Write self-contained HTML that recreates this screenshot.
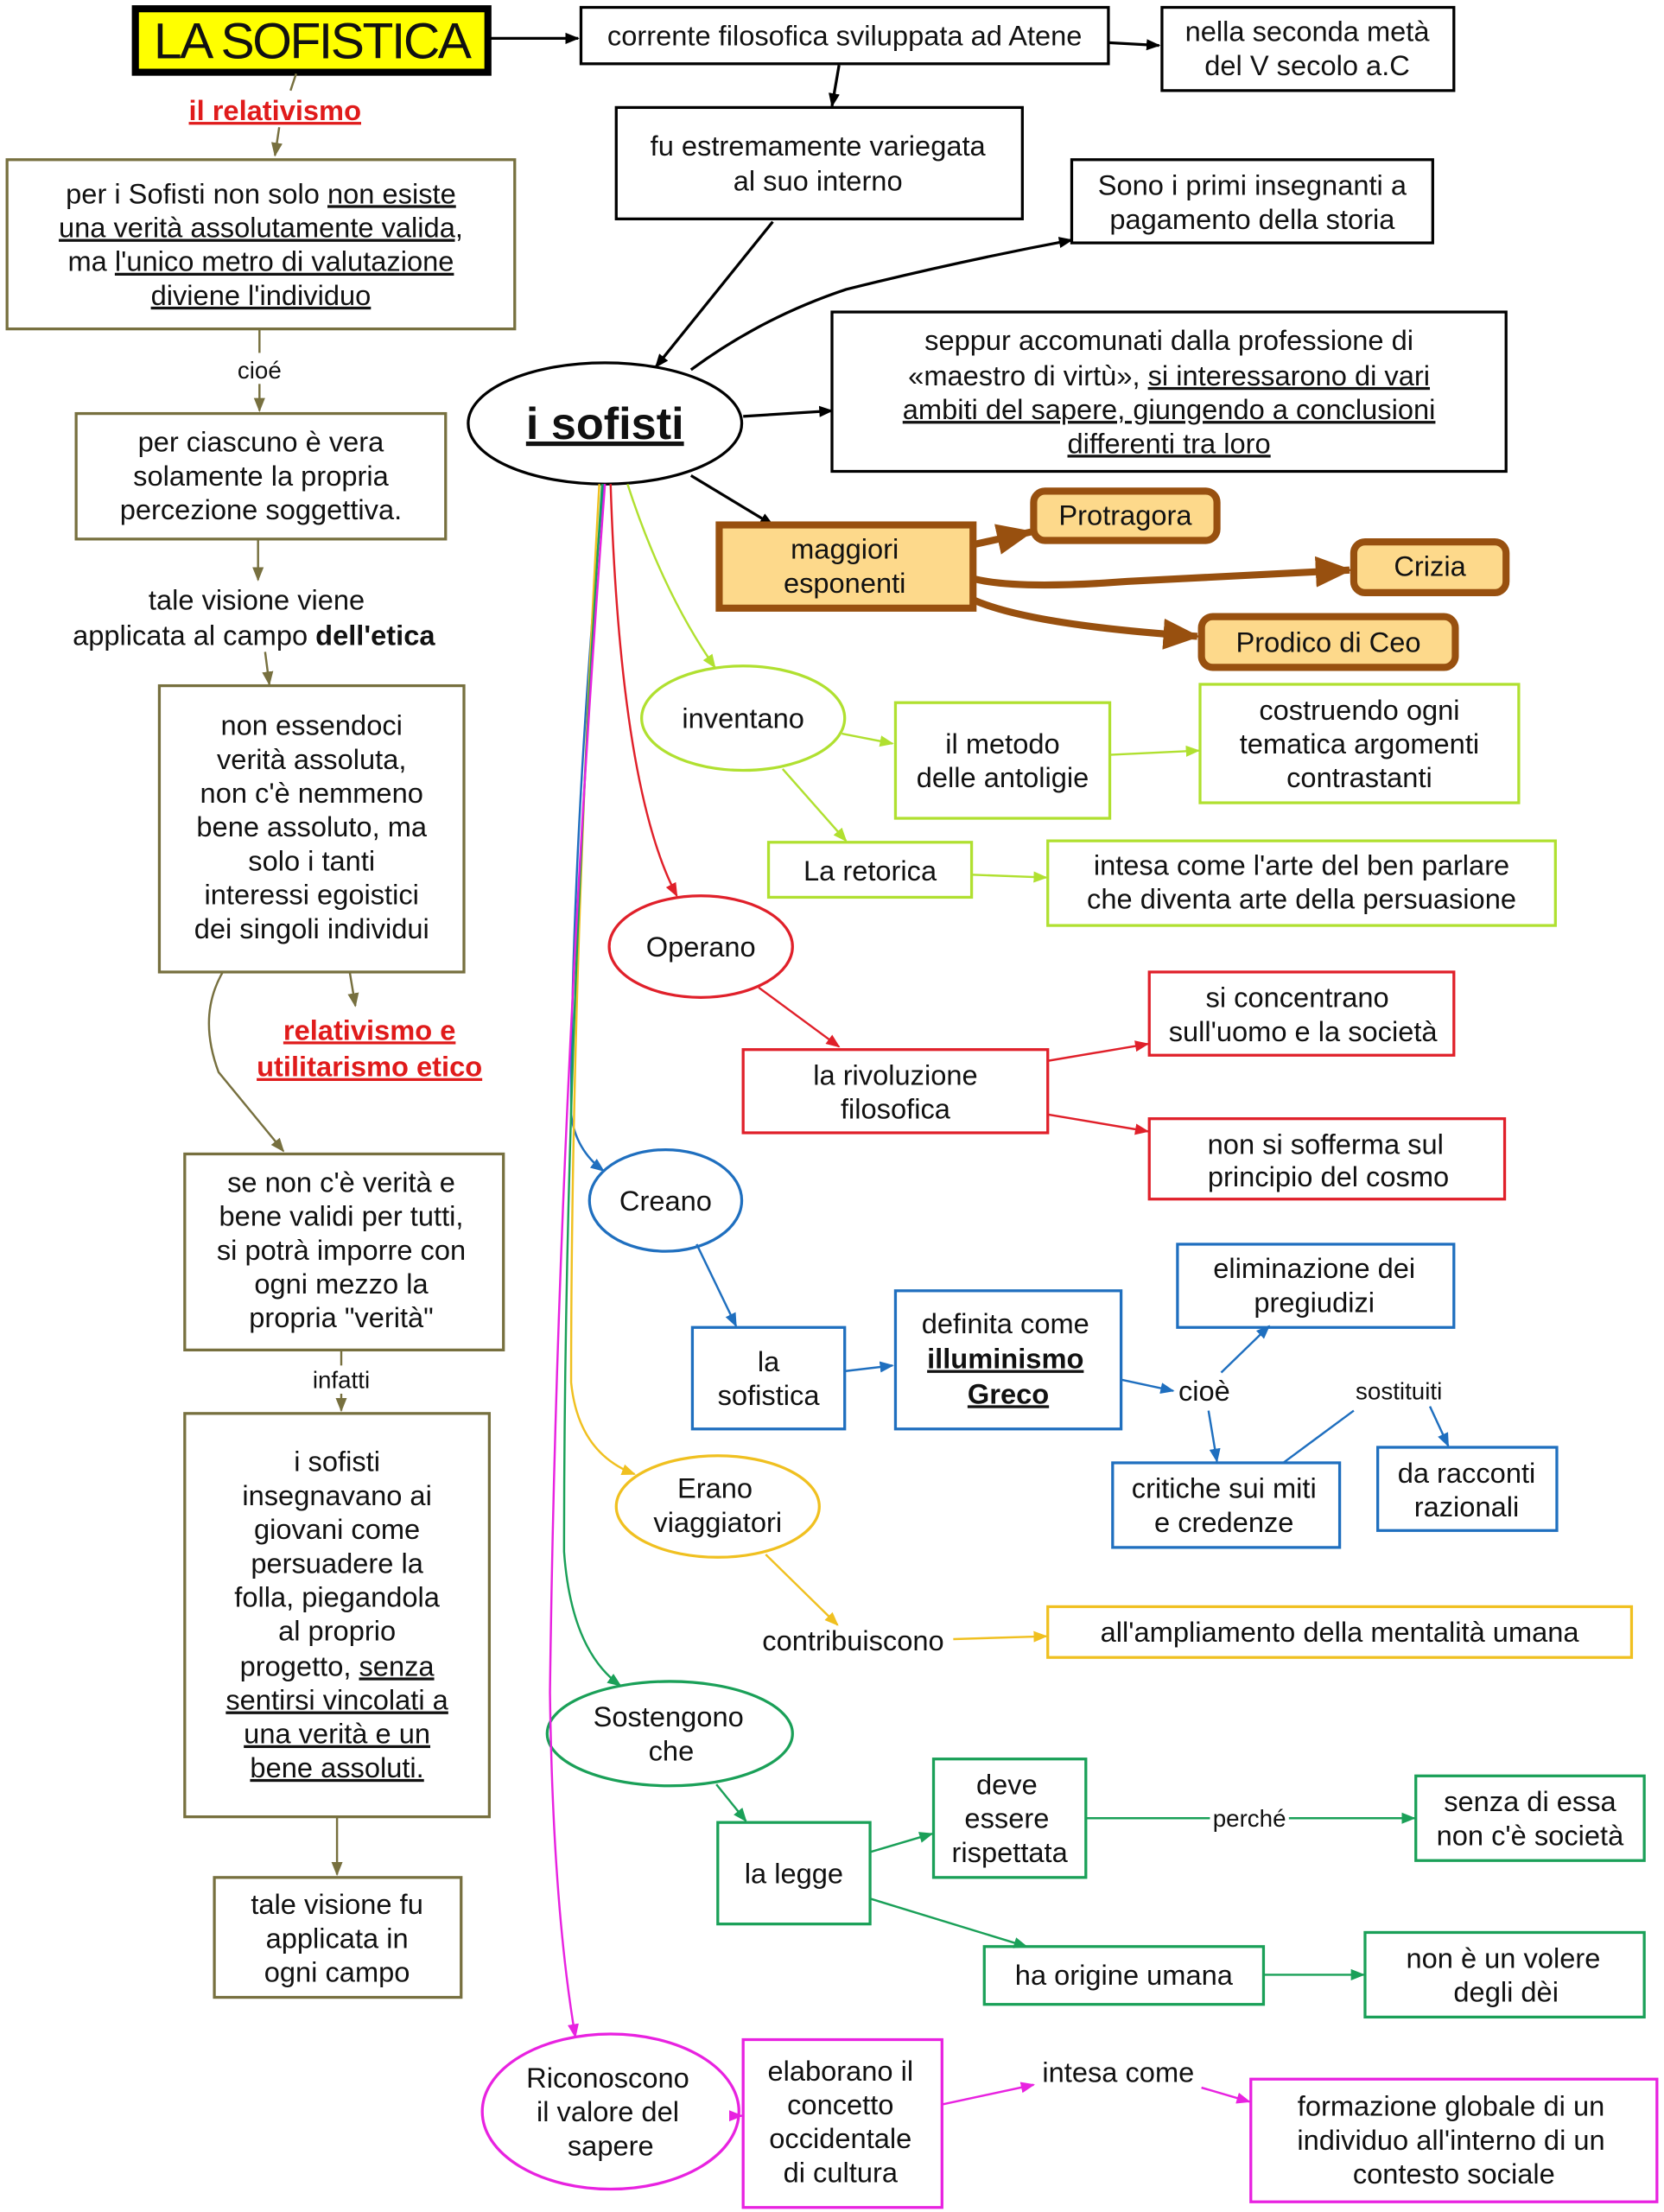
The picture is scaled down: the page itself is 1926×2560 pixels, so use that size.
<!DOCTYPE html>
<html><head><meta charset="utf-8"><style>
html,body{margin:0;padding:0;background:#fff}
svg{display:block}
text{font-family:"Liberation Sans",Arial,sans-serif;font-size:20px;fill:#111;text-anchor:middle}
.u{text-decoration:underline}
.b{font-weight:bold}
.r{fill:#e01b1b;font-weight:bold;text-decoration:underline}
</style></head><body>
<svg width="1926" height="2560" viewBox="0 0 1180 1568" xmlns="http://www.w3.org/2000/svg">
<defs>
<marker id="k" markerWidth="10" markerHeight="10" refX="9" refY="5" orient="auto" markerUnits="userSpaceOnUse"><path d="M0,1 L10,5 L0,9z" fill="#000"/></marker>
<marker id="o" markerWidth="10" markerHeight="10" refX="9" refY="5" orient="auto" markerUnits="userSpaceOnUse"><path d="M0,1 L10,5 L0,9z" fill="#77703f"/></marker>
<marker id="yg" markerWidth="10" markerHeight="10" refX="9" refY="5" orient="auto" markerUnits="userSpaceOnUse"><path d="M0,1 L10,5 L0,9z" fill="#b0e030"/></marker>
<marker id="rd" markerWidth="10" markerHeight="10" refX="9" refY="5" orient="auto" markerUnits="userSpaceOnUse"><path d="M0,1 L10,5 L0,9z" fill="#e0202a"/></marker>
<marker id="bl" markerWidth="10" markerHeight="10" refX="9" refY="5" orient="auto" markerUnits="userSpaceOnUse"><path d="M0,1 L10,5 L0,9z" fill="#1f6fbf"/></marker>
<marker id="ye" markerWidth="10" markerHeight="10" refX="9" refY="5" orient="auto" markerUnits="userSpaceOnUse"><path d="M0,1 L10,5 L0,9z" fill="#f0c020"/></marker>
<marker id="gr" markerWidth="10" markerHeight="10" refX="9" refY="5" orient="auto" markerUnits="userSpaceOnUse"><path d="M0,1 L10,5 L0,9z" fill="#1aa058"/></marker>
<marker id="mg" markerWidth="10" markerHeight="10" refX="9" refY="5" orient="auto" markerUnits="userSpaceOnUse"><path d="M0,1 L10,5 L0,9z" fill="#e822e0"/></marker>
<marker id="br" markerWidth="26" markerHeight="26" refX="24" refY="13" orient="auto" markerUnits="userSpaceOnUse"><path d="M0,2 L26,13 L0,24z" fill="#98500f"/></marker>
</defs>
<g fill="none" stroke-width="2">
<rect x="96" y="6" width="250" height="45" fill="#ffff00" stroke="#000" stroke-width="5"/>
<line x1="348" y1="27" x2="410" y2="27" stroke="#000" marker-end="url(#k)"/>
<rect x="412" y="5" width="374" height="40" stroke="#000"/>
<line x1="786" y1="30" x2="822" y2="32" stroke="#000" marker-end="url(#k)"/>
<rect x="824" y="5" width="207" height="59" stroke="#000"/>
<line x1="595" y1="46" x2="590" y2="75" stroke="#000" marker-end="url(#k)"/>
<rect x="437" y="76" width="288" height="79" stroke="#000"/>
<rect x="760" y="113" width="256" height="59" stroke="#000"/>
<ellipse cx="429" cy="300" rx="97" ry="43" stroke="#000" fill="#fff"/>
<line x1="548" y1="157" x2="465" y2="260" stroke="#000" marker-end="url(#k)"/>
<path d="M490,262 Q540,225 600,205 Q680,185 760,170" stroke="#000" marker-end="url(#k)"/>
<rect x="590" y="221" width="478" height="113" stroke="#000"/>
<line x1="527" y1="295" x2="590" y2="291" stroke="#000" marker-end="url(#k)"/>
<line x1="490" y1="337" x2="548" y2="372" stroke="#000" marker-end="url(#k)"/>
<rect x="510" y="372" width="180" height="59" fill="#fdd98b" stroke="#98500f" stroke-width="5"/>
<rect x="733" y="348" width="130" height="35" rx="8" fill="#fdd98b" stroke="#98500f" stroke-width="5"/>
<rect x="960" y="384" width="108" height="36" rx="8" fill="#fdd98b" stroke="#98500f" stroke-width="5"/>
<rect x="852" y="437" width="180" height="36" rx="8" fill="#fdd98b" stroke="#98500f" stroke-width="5"/>
<path d="M690,386 L731,377" stroke="#98500f" stroke-width="5" marker-end="url(#br)"/>
<path d="M690,410 Q720,418 800,412 L957,404" stroke="#98500f" stroke-width="5" marker-end="url(#br)"/>
<path d="M690,425 Q730,443 849,451" stroke="#98500f" stroke-width="5" marker-end="url(#br)"/>
<line x1="210" y1="52" x2="206" y2="64" stroke="#77703f" stroke-width="1.5"/>
<line x1="198" y1="90" x2="195" y2="110" stroke="#77703f" stroke-width="1.5" marker-end="url(#o)"/>
<rect x="5" y="113" width="360" height="120" stroke="#77703f"/>
<line x1="184" y1="233" x2="184" y2="250" stroke="#77703f" stroke-width="1.5"/>
<line x1="184" y1="272" x2="184" y2="291" stroke="#77703f" stroke-width="1.5" marker-end="url(#o)"/>
<rect x="54" y="293" width="262" height="89" stroke="#77703f"/>
<line x1="183" y1="382" x2="183" y2="411" stroke="#77703f" stroke-width="1.5" marker-end="url(#o)"/>
<line x1="188" y1="462" x2="191" y2="485" stroke="#77703f" stroke-width="1.5" marker-end="url(#o)"/>
<rect x="113" y="486" width="216" height="203" stroke="#77703f"/>
<line x1="248" y1="689" x2="252" y2="713" stroke="#77703f" stroke-width="1.5" marker-end="url(#o)"/>
<path d="M158,689 Q140,720 155,760 L201,816" stroke="#77703f" stroke-width="1.5" marker-end="url(#o)"/>
<rect x="131" y="818" width="226" height="139" stroke="#77703f"/>
<line x1="242" y1="957" x2="242" y2="968" stroke="#77703f" stroke-width="1.5"/>
<line x1="242" y1="988" x2="242" y2="1000" stroke="#77703f" stroke-width="1.5" marker-end="url(#o)"/>
<rect x="131" y="1002" width="216" height="286" stroke="#77703f"/>
<line x1="239" y1="1288" x2="239" y2="1329" stroke="#77703f" stroke-width="1.5" marker-end="url(#o)"/>
<rect x="152" y="1331" width="175" height="85" stroke="#77703f"/>
<path d="M445,343 Q470,420 507,473" stroke="#b0e030" stroke-width="1.5" marker-end="url(#yg)"/>
<ellipse cx="527" cy="509" rx="72" ry="37" stroke="#b0e030"/>
<line x1="597" y1="520" x2="633" y2="527" stroke="#b0e030" stroke-width="1.5" marker-end="url(#yg)"/>
<rect x="635" y="498" width="152" height="82" stroke="#b0e030"/>
<line x1="787" y1="535" x2="850" y2="532" stroke="#b0e030" stroke-width="1.5" marker-end="url(#yg)"/>
<rect x="851" y="485" width="226" height="84" stroke="#b0e030"/>
<line x1="555" y1="545" x2="600" y2="596" stroke="#b0e030" stroke-width="1.5" marker-end="url(#yg)"/>
<rect x="545" y="597" width="144" height="39" stroke="#b0e030"/>
<line x1="689" y1="620" x2="742" y2="622" stroke="#b0e030" stroke-width="1.5" marker-end="url(#yg)"/>
<rect x="743" y="596" width="360" height="60" stroke="#b0e030"/>
<path d="M433,343 Q440,560 480,635" stroke="#e0202a" stroke-width="1.5" marker-end="url(#rd)"/>
<ellipse cx="497" cy="671" rx="65" ry="36" stroke="#e0202a"/>
<line x1="538" y1="700" x2="595" y2="742" stroke="#e0202a" stroke-width="1.5" marker-end="url(#rd)"/>
<rect x="527" y="744" width="216" height="59" stroke="#e0202a"/>
<line x1="743" y1="752" x2="814" y2="740" stroke="#e0202a" stroke-width="1.5" marker-end="url(#rd)"/>
<line x1="743" y1="790" x2="814" y2="802" stroke="#e0202a" stroke-width="1.5" marker-end="url(#rd)"/>
<rect x="815" y="689" width="216" height="59" stroke="#e0202a"/>
<rect x="815" y="793" width="252" height="57" stroke="#e0202a"/>
<path d="M428,343 Q405,600 405,790 Q408,815 428,830" stroke="#1f6fbf" stroke-width="1.5" marker-end="url(#bl)"/>
<ellipse cx="472" cy="851" rx="54" ry="36" stroke="#1f6fbf"/>
<line x1="494" y1="882" x2="522" y2="940" stroke="#1f6fbf" stroke-width="1.5" marker-end="url(#bl)"/>
<rect x="491" y="941" width="108" height="72" stroke="#1f6fbf"/>
<line x1="599" y1="972" x2="633" y2="968" stroke="#1f6fbf" stroke-width="1.5" marker-end="url(#bl)"/>
<rect x="635" y="915" width="160" height="98" stroke="#1f6fbf"/>
<line x1="795" y1="978" x2="832" y2="986" stroke="#1f6fbf" stroke-width="1.5" marker-end="url(#bl)"/>
<line x1="866" y1="973" x2="900" y2="940" stroke="#1f6fbf" stroke-width="1.5" marker-end="url(#bl)"/>
<rect x="835" y="882" width="196" height="59" stroke="#1f6fbf"/>
<line x1="857" y1="1000" x2="863" y2="1036" stroke="#1f6fbf" stroke-width="1.5" marker-end="url(#bl)"/>
<rect x="789" y="1037" width="161" height="60" stroke="#1f6fbf"/>
<line x1="910" y1="1037" x2="960" y2="1000" stroke="#1f6fbf" stroke-width="1.5"/>
<line x1="1014" y1="997" x2="1027" y2="1025" stroke="#1f6fbf" stroke-width="1.5" marker-end="url(#bl)"/>
<rect x="977" y="1026" width="127" height="59" stroke="#1f6fbf"/>
<path d="M425,343 Q405,700 405,980 Q410,1030 450,1045" stroke="#f0c020" stroke-width="1.5" marker-end="url(#ye)"/>
<ellipse cx="509" cy="1068" rx="72" ry="36" stroke="#f0c020"/>
<line x1="543" y1="1102" x2="594" y2="1152" stroke="#f0c020" stroke-width="1.5" marker-end="url(#ye)"/>
<line x1="676" y1="1162" x2="742" y2="1160" stroke="#f0c020" stroke-width="1.5" marker-end="url(#ye)"/>
<rect x="743" y="1139" width="414" height="36" stroke="#f0c020"/>
<path d="M427,343 Q400,750 400,1100 Q405,1170 440,1195" stroke="#1aa058" stroke-width="1.5" marker-end="url(#gr)"/>
<ellipse cx="475" cy="1229" rx="87" ry="37" stroke="#1aa058"/>
<line x1="508" y1="1265" x2="529" y2="1291" stroke="#1aa058" stroke-width="1.5" marker-end="url(#gr)"/>
<rect x="509" y="1292" width="108" height="72" stroke="#1aa058"/>
<line x1="617" y1="1313" x2="661" y2="1300" stroke="#1aa058" stroke-width="1.5" marker-end="url(#gr)"/>
<rect x="662" y="1247" width="108" height="84" stroke="#1aa058"/>
<line x1="770" y1="1289" x2="858" y2="1289" stroke="#1aa058" stroke-width="1.5"/>
<line x1="914" y1="1289" x2="1003" y2="1289" stroke="#1aa058" stroke-width="1.5" marker-end="url(#gr)"/>
<rect x="1004" y="1259" width="162" height="60" stroke="#1aa058"/>
<line x1="617" y1="1346" x2="728" y2="1380" stroke="#1aa058" stroke-width="1.5" marker-end="url(#gr)"/>
<rect x="698" y="1380" width="198" height="41" stroke="#1aa058"/>
<line x1="896" y1="1400" x2="967" y2="1400" stroke="#1aa058" stroke-width="1.5" marker-end="url(#gr)"/>
<rect x="968" y="1370" width="198" height="60" stroke="#1aa058"/>
<path d="M429,343 Q395,800 390,1200 Q392,1350 408,1444" stroke="#e822e0" stroke-width="1.5" marker-end="url(#mg)"/>
<ellipse cx="433" cy="1497" rx="91" ry="55" stroke="#e822e0"/>
<line x1="518" y1="1500" x2="526" y2="1500" stroke="#e822e0" stroke-width="1.5" marker-end="url(#mg)"/>
<rect x="527" y="1446" width="141" height="119" stroke="#e822e0"/>
<line x1="668" y1="1492" x2="733" y2="1478" stroke="#e822e0" stroke-width="1.5" marker-end="url(#mg)"/>
<line x1="852" y1="1480" x2="886" y2="1490" stroke="#e822e0" stroke-width="1.5" marker-end="url(#mg)"/>
<rect x="887" y="1474" width="288" height="87" stroke="#e822e0"/>
</g>
<text x="221" y="41" style="font-size:36px;letter-spacing:-1.5px">LA SOFISTICA</text>
<text x="599" y="32">corrente filosofica sviluppata ad Atene</text>
<text x="927" y="29">nella seconda metà</text><text x="927" y="53">del V secolo a.C</text>
<text x="580" y="110">fu estremamente variegata</text><text x="580" y="135">al suo interno</text>
<text x="888" y="138">Sono i primi insegnanti a</text><text x="888" y="162">pagamento della storia</text>
<text x="429" y="311" class="b u" style="font-size:32px">i  sofisti</text>
<text x="829" y="248">seppur accomunati dalla professione di</text>
<text x="829" y="273">«maestro di virtù», <tspan class="u">si interessarono di vari</tspan></text>
<text x="829" y="297" class="u">ambiti del sapere, giungendo a conclusioni</text>
<text x="829" y="321" class="u">differenti tra loro</text>
<text x="599" y="396">maggiori</text><text x="599" y="420">esponenti</text>
<text x="798" y="372">Protragora</text>
<text x="1014" y="408">Crizia</text>
<text x="942" y="462">Prodico di Ceo</text>
<text x="195" y="85" class="r">il  relativismo</text>
<text x="185" y="144">per i Sofisti non solo <tspan class="u">non esiste</tspan></text>
<text x="185" y="168" class="u">una verità assolutamente valida,</text>
<text x="185" y="192">ma <tspan class="u">l'unico metro di valutazione</tspan></text>
<text x="185" y="216" class="u">diviene l'individuo</text>
<text x="184" y="268" style="font-size:17px">cioé</text>
<text x="185" y="320">per ciascuno è vera</text><text x="185" y="344">solamente la propria</text><text x="185" y="368">percezione soggettiva.</text>
<text x="182" y="432">tale visione viene</text>
<text x="180" y="457">applicata al campo  <tspan class="b">dell'etica</tspan></text>
<text x="221" y="521">non essendoci</text><text x="221" y="545">verità assoluta,</text><text x="221" y="569">non c'è nemmeno</text><text x="221" y="593">bene assoluto, ma</text><text x="221" y="617">solo i tanti</text><text x="221" y="641">interessi egoistici</text><text x="221" y="665">dei singoli individui</text>
<text x="262" y="737" class="r">relativismo  e </text>
<text x="262" y="763" class="r">utilitarismo  etico</text>
<text x="242" y="845">se non c'è verità e</text><text x="242" y="869">bene validi per tutti,</text><text x="242" y="893">si potrà imporre con</text><text x="242" y="917">ogni mezzo la</text><text x="242" y="941">propria "verità"</text>
<text x="242" y="984" style="font-size:17px">infatti</text>
<text x="239" y="1043">i sofisti</text><text x="239" y="1067">insegnavano ai</text><text x="239" y="1091">giovani come</text><text x="239" y="1115">persuadere la</text><text x="239" y="1139">folla, piegandola</text><text x="239" y="1163">al proprio</text><text x="239" y="1188">progetto, <tspan class="u">senza</tspan></text><text x="239" y="1212" class="u">sentirsi vincolati a</text><text x="239" y="1236" class="u">una verità e un</text><text x="239" y="1260" class="u">bene assoluti.</text>
<text x="239" y="1357">tale visione fu</text><text x="239" y="1381">applicata in</text><text x="239" y="1405">ogni campo</text>
<text x="527" y="516">inventano</text>
<text x="711" y="534">il metodo</text><text x="711" y="558">delle antoligie</text>
<text x="964" y="510">costruendo ogni</text><text x="964" y="534">tematica argomenti</text><text x="964" y="558">contrastanti</text>
<text x="617" y="624">La retorica</text>
<text x="923" y="620">intesa come l'arte del ben parlare</text><text x="923" y="644">che diventa arte della persuasione</text>
<text x="497" y="678">Operano</text>
<text x="635" y="769">la rivoluzione</text><text x="635" y="793">filosofica</text>
<text x="920" y="714">si concentrano</text><text x="924" y="738">sull'uomo e la società</text>
<text x="940" y="818">non si sofferma sul</text><text x="942" y="841">principio del cosmo</text>
<text x="472" y="858">Creano</text>
<text x="545" y="972">la</text><text x="545" y="996">sofistica</text>
<text x="713" y="945">definita come</text><text x="713" y="970" class="b u">illuminismo </text><text x="715" y="995" class="b u">Greco</text>
<text x="854" y="993">cioè</text>
<text x="932" y="906">eliminazione dei</text><text x="932" y="930">pregiudizi</text>
<text x="992" y="992" style="font-size:17px">sostituiti</text>
<text x="868" y="1062">critiche sui miti</text><text x="868" y="1086">e credenze</text>
<text x="1040" y="1051">da racconti</text><text x="1040" y="1075">razionali</text>
<text x="507" y="1062">Erano</text><text x="509" y="1086">viaggiatori</text>
<text x="605" y="1170">contribuiscono</text>
<text x="950" y="1164">all'ampliamento  della mentalità umana</text>
<text x="474" y="1224">Sostengono</text><text x="476" y="1248">che</text>
<text x="563" y="1335">la legge</text>
<text x="714" y="1272">deve</text><text x="714" y="1296">essere</text><text x="716" y="1320">rispettata</text>
<text x="886" y="1295" style="font-size:17px">perché</text>
<text x="1085" y="1284">senza di essa</text><text x="1085" y="1308">non c'è società</text>
<text x="797" y="1407">ha origine umana</text>
<text x="1066" y="1395">non è un volere</text><text x="1068" y="1419">degli dèi</text>
<text x="431" y="1480">Riconoscono</text><text x="431" y="1504">il valore del</text><text x="433" y="1528">sapere</text>
<text x="596" y="1475">elaborano il</text><text x="596" y="1499">concetto</text><text x="596" y="1523">occidentale</text><text x="596" y="1547">di cultura</text>
<text x="793" y="1476">intesa come</text>
<text x="1029" y="1500">formazione globale di un</text><text x="1029" y="1524">individuo all'interno di un</text><text x="1031" y="1548">contesto sociale</text>
</svg>
</body></html>
